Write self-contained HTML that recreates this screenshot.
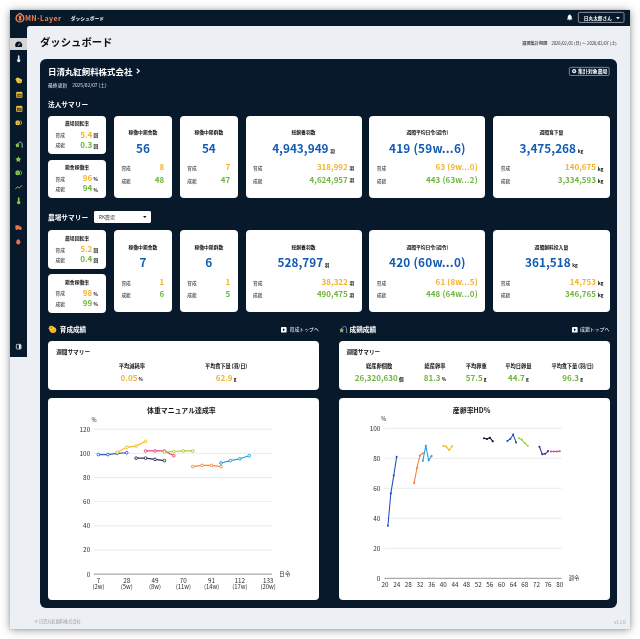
<!DOCTYPE html>
<html lang="ja"><head><meta charset="utf-8"><title>ダッシュボード</title>
<style>
html,body{margin:0;padding:0;}
body{width:640px;height:639px;position:relative;overflow:hidden;background:#fff;font-family:"Noto Sans CJK JP", "Liberation Sans", sans-serif;}
.t{position:absolute;white-space:nowrap;font-family:"Noto Sans CJK JP", "Liberation Sans", sans-serif;}
.b{position:absolute;}
svg{position:absolute;overflow:visible;}
.u{font-size:4.6px;color:#111;font-weight:700;}
</style></head><body><div id="app" style="position:absolute;left:0;top:0;width:640px;height:639px;will-change:transform">

<div class="b" style="left:10px;top:10px;width:620.2px;height:618.9px;background:#eceff4;box-shadow:0 1px 9px rgba(0,0,0,.38),0 0 3px rgba(0,0,0,.18);"></div>
<div class="b" style="left:10px;top:10px;width:620px;height:16px;background:#07192b;"></div>
<div class="b" style="left:10px;top:26px;width:17.2px;height:331px;background:#07192b;"></div>
<div class="b" style="left:27.2px;top:26px;width:5px;height:5px;background:#07192b;"></div>
<div class="b" style="left:27.2px;top:26px;width:10px;height:10px;background:#eceff4;border-top-left-radius:2.5px;"></div>
<div class="b" style="left:10px;top:37.5px;width:17.2px;height:12.5px;background:#d4d5d8;"></div>
<svg style="left:15.6px;top:13.3px" width="7.9" height="9.3" viewBox="1 0.500 14 19" preserveAspectRatio="none">
<path d="M8 1.200c-1.300 0-2.100 1-2.400 2.100C3 4.700 1.200 7.600 1.200 11c0 4.300 3 7.700 6.800 7.700s6.800-3.400 6.800-7.700c0-3.400-1.800-6.300-4.400-7.700C10.100 2.200 9.300 1.200 8 1.200z" fill="none" stroke="#ef7d52" stroke-width="2.700"/>
<path d="M8.300 5.500c1.500 0 2.300 1.300 2.300 2.800 0 1.200-.6 1.900-.6 2.800 0 1 1 1.400 1 2.600 0 1.400-1.300 2.400-2.800 2.400s-2.600-1-2.600-2.400c0-1.200.9-1.500.9-2.600 0-.9-.8-1.600-.8-2.800 0-1.500 1.100-2.800 2.600-2.800z" fill="#ef7d52"/>
</svg>
<div class="t" style="left:24.9px;top:12.94px;font-size:7.1px;line-height:10.6px;color:#ef7d52;font-weight:700;letter-spacing:0.38px;">MN-Layer</div>
<div class="t" style="left:70.8px;top:13.78px;font-size:4.76px;line-height:7.1px;color:#fff;font-weight:700;">ダッシュボード</div>
<svg style="left:566.8px;top:14.3px" width="5.4" height="7" viewBox="0 0 14 18">
<path d="M7 0.500c.8 0 1.300.6 1.300 1.300v.4c2.300.6 3.700 2.600 3.700 5v3.200l1.700 2.400v1.100H.3v-1.100L2 10.400V7.200c0-2.400 1.400-4.400 3.700-5v-.4C5.700 1.100 6.200.5 7 .5zM5.100 15h3.800c0 1.200-.8 2.100-1.900 2.100s-1.900-.9-1.900-2.100z" fill="#fff"/></svg>
<svg style="left:578.4px;top:12.1px" width="46.4" height="10.8" viewBox="0 0 46.400 10.800"><rect x="0.350" y="0.350" width="45.700" height="10.100" rx="1.500" fill="none" stroke="#b9c0ca" stroke-width="0.700"/></svg>
<div class="t" style="left:583.8px;top:14.97px;font-size:4.7px;line-height:7.1px;color:#fff;font-weight:700;">日丸太郎さん</div>
<svg style="left:615.6px;top:17.1px" width="3.8" height="2.2" viewBox="0 0 8 4.800"><path d="M0 0h8L4 4.800z" fill="#fff"/></svg>
<svg style="left:15px;top:40.7px" width="7.4" height="6.2" viewBox="0 0 16 14"><path d="M8 1C3.600 1 0 4.700 0 9.200c0 1.400.4 2.800 1 3.900.2.400.6.600 1 .600h12c.4 0 .8-.2 1-.6.600-1.100 1-2.500 1-3.900C16 4.700 12.400 1 8 1z" fill="#0b0f17"/><path d="M6.800 9.800l4.200-4" stroke="#fff" stroke-width="1.900" stroke-linecap="round"/></svg>
<svg style="left:16.8px;top:54.8px" width="3.4" height="7.2" viewBox="0 0 8 17"><path d="M4 0.400c-1.100 0-1.900.8-1.900 1.900v7.200C.9 10.300 0 11.600 0 13c0 2.200 1.800 4 4 4s4-1.800 4-4c0-1.400-.9-2.700-2.100-3.500V2.300C5.900 1.200 5.100.4 4 .4z" fill="#e3ebf7"/></svg>
<svg style="left:15.300px;top:76.700px" width="7.400" height="6.600" viewBox="0 0 8.600 7.800"><ellipse cx="5" cy="4.700" rx="3.300" ry="2.800" fill="#efc234"/><circle cx="3.300" cy="3" r="2.400" fill="#f2c93e"/><path d="M0.200 3l1.300-.8v1.500z" fill="#e9a52a"/><path d="M4.300 4.500c1.200-.2 2.400.3 2.800 1.300-.9.900-2.600.7-3.100-.4z" fill="#d9a520"/></svg>
<svg style="left:15.6px;top:91px" width="6.6" height="7" viewBox="0 0 16 16"><path d="M3.400 0.500h2v1.600h5.200V0.500h2v1.600h1.400c.9 0 1.600.7 1.600 1.600v10.600c0 .9-.7 1.600-1.600 1.600H2c-.9 0-1.600-.7-1.600-1.600V3.700c0-.9.700-1.600 1.600-1.600h1.400z" fill="#f0c53a"/><rect x="2.400" y="6.200" width="11.200" height="7.800" fill="#4f4a22"/><rect x="3.600" y="8.600" width="8.800" height="4" fill="#f0c53a" opacity=".5"/></svg>
<svg style="left:15.6px;top:105.1px" width="6.6" height="7" viewBox="0 0 16 16"><path d="M3.400 0.500h2v1.600h5.200V0.500h2v1.600h1.400c.9 0 1.600.7 1.600 1.600v10.600c0 .9-.7 1.600-1.600 1.600H2c-.9 0-1.600-.7-1.600-1.600V3.700c0-.9.700-1.600 1.600-1.600h1.400z" fill="#f0c53a"/><rect x="2.400" y="6.200" width="11.200" height="7.800" fill="#4f4a22"/><path d="M5.200 10.200l1.900 1.900 3.800-3.800" stroke="#f0c53a" stroke-width="1.700" fill="none"/></svg>
<svg style="left:14.8px;top:120.1px" width="8.2" height="5.6" viewBox="0 0 18 12"><ellipse cx="6" cy="6" rx="5.300" ry="5.500" fill="#f0c53a"/><path d="M11.500 1.200a5.300 5.300 0 0 1 0 9.600" stroke="#f0c53a" stroke-width="1.900" fill="none"/><ellipse cx="6" cy="6" rx="1.600" ry="2.600" fill="#07192b" opacity=".3"/></svg>
<svg style="left:14.8px;top:141.3px" width="8" height="7" viewBox="0 0 8 7"><path d="M3.300 2.600C3.700 0.700 6.400 0.300 7 2.600L7.200 6.300" fill="none" stroke="#b7d9a0" stroke-width="0.900" stroke-linecap="round"/><path d="M0.400 3.800l2.200-1.700 0.300 1.100 1.700 0.200-0.900 1.300 0.500 1.500-1.900-0.500-1.300 0.700 0.200-1.700z" fill="#8ccb4c"/></svg>
<svg style="left:15.4px;top:155.8px" width="6.6" height="6.4" viewBox="0 0 16 16"><path d="M8 0.500l2.300 4.900 5.200.7-3.800 3.700.9 5.300L8 12.600l-4.600 2.500.9-5.300L.5 6.100l5.200-.7z" fill="#8ccb4c"/></svg>
<svg style="left:14.8px;top:170.3px" width="8.2" height="5.6" viewBox="0 0 18 12"><ellipse cx="6" cy="6" rx="5.300" ry="5.500" fill="#8ccb4c"/><path d="M11.500 1.200a5.300 5.300 0 0 1 0 9.600" stroke="#8ccb4c" stroke-width="1.900" fill="none"/><ellipse cx="6" cy="6" rx="1.600" ry="2.600" fill="#07192b" opacity=".3"/></svg>
<svg style="left:15.1px;top:185px" width="7.2" height="4.4" viewBox="0 0 16 10"><path d="M1 9l4.500-5 3.500 3L15 1.500" stroke="#8ccb4c" stroke-width="2" fill="none" stroke-linecap="round" stroke-linejoin="round"/></svg>
<svg style="left:16.8px;top:197.4px" width="3.4" height="7.2" viewBox="0 0 8 17"><path d="M4 0.400c-1.100 0-1.900.8-1.900 1.900v7.200C.9 10.300 0 11.600 0 13c0 2.200 1.800 4 4 4s4-1.800 4-4c0-1.400-.9-2.700-2.100-3.500V2.300C5.900 1.200 5.100.4 4 .4z" fill="#8ccb4c"/></svg>
<svg style="left:14.9px;top:224.7px" width="7" height="5" viewBox="0 0 16 12"><path d="M0.500 0.500h9v2.500h3l3 3.200v3.800h-1.300a2 2 0 0 1-4 0H6.300a2 2 0 0 1-4 0H0.500z" fill="#ee6f4c"/></svg>
<svg style="left:16.2px;top:238.7px" width="4.6" height="5.6" viewBox="0 0 10 12"><path d="M5 0.300C2.600 0.300 0.300 4 0.300 7.200c0 2.800 2 4.500 4.700 4.500s4.700-1.700 4.700-4.500C9.700 4 7.400.3 5 .3z" fill="#ee6f4c"/></svg>
<svg style="left:16px;top:344px" width="5.4" height="5.4" viewBox="0 0 16 16"><rect x="1" y="1" width="14" height="14" rx="2" fill="none" stroke="#fff" stroke-width="2"/><rect x="8.500" y="2" width="5.500" height="12" fill="#fff"/></svg>
<div class="t" style="left:40px;top:33.98px;font-size:10.35px;line-height:15.5px;color:#0c0f14;font-weight:700;">ダッシュボード</div>
<div class="t" style="right:23.3px;top:39.88px;font-size:4.18px;line-height:6.3px;color:#222;"><b style="font-weight:500">週間集計期間</b>　2026/02/01 (日) 〜 2026/02/07 (土)</div>
<div class="b" style="left:40px;top:58.6px;width:576.9px;height:549px;background:#07192b;border-radius:6px;"></div>
<div class="t" style="left:48px;top:65.21px;font-size:8.45px;line-height:12.7px;color:#fff;font-weight:700;">日清丸紅飼料株式会社</div>
<svg style="left:136.3px;top:68.4px" width="4.200" height="6" viewBox="0 0 7 10"><path d="M1.300 1.200l4.200 3.800-4.200 3.800" stroke="#fff" stroke-width="1.900" fill="none"/></svg>
<div class="t" style="left:48px;top:81.09px;font-size:4.85px;line-height:7.3px;color:#dde1e7;">最終更新　2025/02/07 (土)</div>
<svg style="left:568.9px;top:66.7px" width="40.5" height="8.8" viewBox="0 0 40.500 8.800"><rect x="0.350" y="0.350" width="39.800" height="8.100" rx="1.200" fill="none" stroke="#aeb5bf" stroke-width="0.700"/></svg>
<svg style="left:572px;top:68.95px" width="4.300" height="4.300" viewBox="0 0 10 10"><circle cx="5" cy="5" r="4.800" fill="#fff"/><path d="M5 2.500v5M2.500 5h5" stroke="#07192b" stroke-width="1.500"/></svg>
<div class="t" style="left:578.1px;top:67.04px;font-size:4.9px;line-height:7.4px;color:#fff;font-weight:700;">集計対象農場</div>
<div class="t" style="left:48px;top:99.25px;font-size:6.7px;line-height:10.1px;color:#fff;font-weight:700;">法人サマリー</div>
<div class="b" style="left:48.1px;top:115.9px;width:58px;height:38.5px;background:#fff;border-radius:4px;"></div>
<div class="t" style="left:77.1px;transform:translateX(-50%);top:119.29px;font-size:4.85px;line-height:7.3px;color:#111;font-weight:700;">農場回転率</div>
<div class="t" style="left:55.6px;top:131.77px;font-size:4.7px;line-height:7.1px;color:#4a4a4a;font-weight:500;">育成</div>
<div class="t" style="right:547.7px;top:129.18px;font-size:8.1px;line-height:12.1px;color:#f4b42c;font-weight:700;">5.4</div>
<div class="t" style="left:93.6px;top:132.06px;font-size:4.6px;line-height:6.9px;color:#111;font-weight:700;">回</div>
<div class="t" style="left:55.6px;top:142.17px;font-size:4.7px;line-height:7.1px;color:#4a4a4a;font-weight:500;">成鶏</div>
<div class="t" style="right:547.7px;top:139.38px;font-size:8.1px;line-height:12.1px;color:#72b53f;font-weight:700;">0.3</div>
<div class="t" style="left:93.6px;top:142.96px;font-size:4.6px;line-height:6.9px;color:#111;font-weight:700;">回</div>
<div class="b" style="left:48.1px;top:159.5px;width:58px;height:38.5px;background:#fff;border-radius:4px;"></div>
<div class="t" style="left:77.1px;transform:translateX(-50%);top:163.49px;font-size:4.85px;line-height:7.3px;color:#111;font-weight:700;">鶏舎稼働率</div>
<div class="t" style="left:55.6px;top:176.17px;font-size:4.7px;line-height:7.1px;color:#4a4a4a;font-weight:500;">育成</div>
<div class="t" style="right:547.7px;top:171.88px;font-size:8.1px;line-height:12.1px;color:#f4b42c;font-weight:700;">96</div>
<div class="t" style="left:93.6px;top:176.36px;font-size:4.6px;line-height:6.9px;color:#111;font-weight:700;">%</div>
<div class="t" style="left:55.6px;top:186.37px;font-size:4.7px;line-height:7.1px;color:#4a4a4a;font-weight:500;">成鶏</div>
<div class="t" style="right:547.7px;top:182.28px;font-size:8.1px;line-height:12.1px;color:#72b53f;font-weight:700;">94</div>
<div class="t" style="left:93.6px;top:186.56px;font-size:4.6px;line-height:6.9px;color:#111;font-weight:700;">%</div>
<div class="b" style="left:113.9px;top:115.9px;width:58px;height:82px;background:#fff;border-radius:4px;"></div>
<div class="t" style="left:142.9px;transform:translateX(-50%);top:127.63px;font-size:4.8px;line-height:7.2px;color:#111;font-weight:700;">稼働中鶏舎数</div>
<div class="t" style="left:142.9px;transform:translateX(-50%);top:138.91px;font-size:11.8px;line-height:17.7px;color:#125bb4;font-weight:700;">56</div>
<div class="t" style="left:121.4px;top:165.47px;font-size:4.7px;line-height:7.1px;color:#4a4a4a;font-weight:500;">育成</div>
<div class="t" style="right:475.8px;top:160.92px;font-size:8.0px;line-height:12.0px;color:#f4b42c;font-weight:700;">8</div>
<div class="t" style="left:121.4px;top:177.87px;font-size:4.7px;line-height:7.1px;color:#4a4a4a;font-weight:500;">成鶏</div>
<div class="t" style="right:475.8px;top:174.22px;font-size:8.0px;line-height:12.0px;color:#72b53f;font-weight:700;">48</div>
<div class="b" style="left:179.7px;top:115.9px;width:58.3px;height:82px;background:#fff;border-radius:4px;"></div>
<div class="t" style="left:208.85px;transform:translateX(-50%);top:127.63px;font-size:4.8px;line-height:7.2px;color:#111;font-weight:700;">稼働中鶏群数</div>
<div class="t" style="left:208.85px;transform:translateX(-50%);top:138.91px;font-size:11.8px;line-height:17.7px;color:#125bb4;font-weight:700;">54</div>
<div class="t" style="left:187.2px;top:165.47px;font-size:4.7px;line-height:7.1px;color:#4a4a4a;font-weight:500;">育成</div>
<div class="t" style="right:409.7px;top:160.92px;font-size:8.0px;line-height:12.0px;color:#f4b42c;font-weight:700;">7</div>
<div class="t" style="left:187.2px;top:177.87px;font-size:4.7px;line-height:7.1px;color:#4a4a4a;font-weight:500;">成鶏</div>
<div class="t" style="right:409.7px;top:174.22px;font-size:8.0px;line-height:12.0px;color:#72b53f;font-weight:700;">47</div>
<div class="b" style="left:245.5px;top:115.9px;width:116px;height:82px;background:#fff;border-radius:4px;"></div>
<div class="t" style="left:303.5px;transform:translateX(-50%);top:127.63px;font-size:4.8px;line-height:7.2px;color:#111;font-weight:700;">総飼養羽数</div>
<div class="t" style="left:303.5px;transform:translateX(-50%);top:138.91px;font-size:11.8px;line-height:17.7px;color:#125bb4;font-weight:700;">4,943,949<span class="u" style="margin-left:1.7px">羽</span></div>
<div class="t" style="left:253px;top:165.47px;font-size:4.7px;line-height:7.1px;color:#4a4a4a;font-weight:500;">育成</div>
<div class="t" style="right:292.2px;top:160.92px;font-size:8.0px;line-height:12.0px;color:#f4b42c;font-weight:700;">318,992</div>
<div class="t" style="left:349.6px;top:165.46px;font-size:4.6px;line-height:6.9px;color:#111;font-weight:700;">羽</div>
<div class="t" style="left:253px;top:177.87px;font-size:4.7px;line-height:7.1px;color:#4a4a4a;font-weight:500;">成鶏</div>
<div class="t" style="right:292.2px;top:174.22px;font-size:8.0px;line-height:12.0px;color:#72b53f;font-weight:700;">4,624,957</div>
<div class="t" style="left:349.6px;top:177.26px;font-size:4.6px;line-height:6.9px;color:#111;font-weight:700;">羽</div>
<div class="b" style="left:369.3px;top:115.9px;width:116.2px;height:82px;background:#fff;border-radius:4px;"></div>
<div class="t" style="left:427.4px;transform:translateX(-50%);top:127.63px;font-size:4.8px;line-height:7.2px;color:#111;font-weight:700;">週間平均日令(週令)</div>
<div class="t" style="left:427.4px;transform:translateX(-50%);top:138.91px;font-size:11.8px;line-height:17.7px;color:#125bb4;font-weight:700;letter-spacing:0.2px;">419 (59w...6)</div>
<div class="t" style="left:376.8px;top:165.47px;font-size:4.7px;line-height:7.1px;color:#4a4a4a;font-weight:500;">育成</div>
<div class="t" style="right:162.2px;top:160.92px;font-size:8.0px;line-height:12.0px;color:#f4b42c;font-weight:700;letter-spacing:0.13px;">63 (9w...0)</div>
<div class="t" style="left:376.8px;top:177.87px;font-size:4.7px;line-height:7.1px;color:#4a4a4a;font-weight:500;">成鶏</div>
<div class="t" style="right:162.2px;top:174.22px;font-size:8.0px;line-height:12.0px;color:#72b53f;font-weight:700;letter-spacing:0.13px;">443 (63w...2)</div>
<div class="b" style="left:493.2px;top:115.9px;width:116.4px;height:82px;background:#fff;border-radius:4px;"></div>
<div class="t" style="left:551.4px;transform:translateX(-50%);top:127.63px;font-size:4.8px;line-height:7.2px;color:#111;font-weight:700;">週間食下量</div>
<div class="t" style="left:551.4px;transform:translateX(-50%);top:138.91px;font-size:11.8px;line-height:17.7px;color:#125bb4;font-weight:700;">3,475,268<span class="u" style="margin-left:1.7px">kg</span></div>
<div class="t" style="left:500.7px;top:165.47px;font-size:4.7px;line-height:7.1px;color:#4a4a4a;font-weight:500;">育成</div>
<div class="t" style="right:44.1px;top:160.92px;font-size:8.0px;line-height:12.0px;color:#f4b42c;font-weight:700;">140,675</div>
<div class="t" style="left:597.7px;top:165.24px;font-size:4.9px;line-height:7.4px;color:#111;font-weight:700;">kg</div>
<div class="t" style="left:500.7px;top:177.87px;font-size:4.7px;line-height:7.1px;color:#4a4a4a;font-weight:500;">成鶏</div>
<div class="t" style="right:44.1px;top:174.22px;font-size:8.0px;line-height:12.0px;color:#72b53f;font-weight:700;">3,334,593</div>
<div class="t" style="left:597.7px;top:176.54px;font-size:4.9px;line-height:7.4px;color:#111;font-weight:700;">kg</div>
<div class="t" style="left:48px;top:211.85px;font-size:6.7px;line-height:10.1px;color:#fff;font-weight:700;">農場サマリー</div>
<div class="b" style="left:93.8px;top:211.3px;width:57.4px;height:11.4px;background:#fff;border-radius:1.4px;"></div>
<div class="t" style="left:98.8px;top:212.64px;font-size:4.9px;line-height:7.4px;color:#3a3a3a;">RK農場</div>
<svg style="left:142.6px;top:216.1px" width="3.6" height="2" viewBox="0 0 8 4.500"><path d="M0 0h8L4 4.500z" fill="#111"/></svg>
<div class="b" style="left:48.1px;top:230.4px;width:58px;height:38.5px;background:#fff;border-radius:4px;"></div>
<div class="t" style="left:77.1px;transform:translateX(-50%);top:234.29px;font-size:4.85px;line-height:7.3px;color:#111;font-weight:700;">農場回転率</div>
<div class="t" style="left:55.6px;top:247.07px;font-size:4.7px;line-height:7.1px;color:#4a4a4a;font-weight:500;">育成</div>
<div class="t" style="right:547.7px;top:242.68px;font-size:8.1px;line-height:12.1px;color:#f4b42c;font-weight:700;">5.2</div>
<div class="t" style="left:93.6px;top:247.26px;font-size:4.6px;line-height:6.9px;color:#111;font-weight:700;">回</div>
<div class="t" style="left:55.6px;top:257.27px;font-size:4.7px;line-height:7.1px;color:#4a4a4a;font-weight:500;">成鶏</div>
<div class="t" style="right:547.7px;top:253.08px;font-size:8.1px;line-height:12.1px;color:#72b53f;font-weight:700;">0.4</div>
<div class="t" style="left:93.6px;top:257.46px;font-size:4.6px;line-height:6.9px;color:#111;font-weight:700;">回</div>
<div class="b" style="left:48.1px;top:274px;width:58px;height:38.5px;background:#fff;border-radius:4px;"></div>
<div class="t" style="left:77.1px;transform:translateX(-50%);top:278.09px;font-size:4.85px;line-height:7.3px;color:#111;font-weight:700;">鶏舎稼働率</div>
<div class="t" style="left:55.6px;top:289.97px;font-size:4.7px;line-height:7.1px;color:#4a4a4a;font-weight:500;">育成</div>
<div class="t" style="right:547.7px;top:287.28px;font-size:8.1px;line-height:12.1px;color:#f4b42c;font-weight:700;">98</div>
<div class="t" style="left:93.6px;top:290.86px;font-size:4.6px;line-height:6.9px;color:#111;font-weight:700;">%</div>
<div class="t" style="left:55.6px;top:300.87px;font-size:4.7px;line-height:7.1px;color:#4a4a4a;font-weight:500;">成鶏</div>
<div class="t" style="right:547.7px;top:297.48px;font-size:8.1px;line-height:12.1px;color:#72b53f;font-weight:700;">99</div>
<div class="t" style="left:93.6px;top:301.06px;font-size:4.6px;line-height:6.9px;color:#111;font-weight:700;">%</div>
<div class="b" style="left:113.9px;top:230.4px;width:58px;height:82px;background:#fff;border-radius:4px;"></div>
<div class="t" style="left:142.9px;transform:translateX(-50%);top:242.53px;font-size:4.8px;line-height:7.2px;color:#111;font-weight:700;">稼働中鶏舎数</div>
<div class="t" style="left:142.9px;transform:translateX(-50%);top:252.91px;font-size:11.8px;line-height:17.7px;color:#125bb4;font-weight:700;">7</div>
<div class="t" style="left:121.4px;top:279.97px;font-size:4.7px;line-height:7.1px;color:#4a4a4a;font-weight:500;">育成</div>
<div class="t" style="right:475.8px;top:276.32px;font-size:8.0px;line-height:12.0px;color:#f4b42c;font-weight:700;">1</div>
<div class="t" style="left:121.4px;top:292.37px;font-size:4.7px;line-height:7.1px;color:#4a4a4a;font-weight:500;">成鶏</div>
<div class="t" style="right:475.8px;top:287.72px;font-size:8.0px;line-height:12.0px;color:#72b53f;font-weight:700;">6</div>
<div class="b" style="left:179.7px;top:230.4px;width:58.3px;height:82px;background:#fff;border-radius:4px;"></div>
<div class="t" style="left:208.85px;transform:translateX(-50%);top:242.53px;font-size:4.8px;line-height:7.2px;color:#111;font-weight:700;">稼働中鶏群数</div>
<div class="t" style="left:208.85px;transform:translateX(-50%);top:252.91px;font-size:11.8px;line-height:17.7px;color:#125bb4;font-weight:700;">6</div>
<div class="t" style="left:187.2px;top:279.97px;font-size:4.7px;line-height:7.1px;color:#4a4a4a;font-weight:500;">育成</div>
<div class="t" style="right:409.7px;top:276.32px;font-size:8.0px;line-height:12.0px;color:#f4b42c;font-weight:700;">1</div>
<div class="t" style="left:187.2px;top:292.37px;font-size:4.7px;line-height:7.1px;color:#4a4a4a;font-weight:500;">成鶏</div>
<div class="t" style="right:409.7px;top:287.72px;font-size:8.0px;line-height:12.0px;color:#72b53f;font-weight:700;">5</div>
<div class="b" style="left:245.5px;top:230.4px;width:116px;height:82px;background:#fff;border-radius:4px;"></div>
<div class="t" style="left:303.5px;transform:translateX(-50%);top:242.53px;font-size:4.8px;line-height:7.2px;color:#111;font-weight:700;">総飼養羽数</div>
<div class="t" style="left:303.5px;transform:translateX(-50%);top:252.91px;font-size:11.8px;line-height:17.7px;color:#125bb4;font-weight:700;">528,797<span class="u" style="margin-left:1.7px">羽</span></div>
<div class="t" style="left:253px;top:279.97px;font-size:4.7px;line-height:7.1px;color:#4a4a4a;font-weight:500;">育成</div>
<div class="t" style="right:292.2px;top:276.32px;font-size:8.0px;line-height:12.0px;color:#f4b42c;font-weight:700;">38,322</div>
<div class="t" style="left:349.6px;top:279.96px;font-size:4.6px;line-height:6.9px;color:#111;font-weight:700;">羽</div>
<div class="t" style="left:253px;top:292.37px;font-size:4.7px;line-height:7.1px;color:#4a4a4a;font-weight:500;">成鶏</div>
<div class="t" style="right:292.2px;top:287.72px;font-size:8.0px;line-height:12.0px;color:#72b53f;font-weight:700;">490,475</div>
<div class="t" style="left:349.6px;top:292.36px;font-size:4.6px;line-height:6.9px;color:#111;font-weight:700;">羽</div>
<div class="b" style="left:369.3px;top:230.4px;width:116.2px;height:82px;background:#fff;border-radius:4px;"></div>
<div class="t" style="left:427.4px;transform:translateX(-50%);top:242.53px;font-size:4.8px;line-height:7.2px;color:#111;font-weight:700;">週間平均日令(週令)</div>
<div class="t" style="left:427.4px;transform:translateX(-50%);top:252.91px;font-size:11.8px;line-height:17.7px;color:#125bb4;font-weight:700;letter-spacing:0.2px;">420 (60w...0)</div>
<div class="t" style="left:376.8px;top:279.97px;font-size:4.7px;line-height:7.1px;color:#4a4a4a;font-weight:500;">育成</div>
<div class="t" style="right:162.2px;top:276.32px;font-size:8.0px;line-height:12.0px;color:#f4b42c;font-weight:700;letter-spacing:0.13px;">61 (8w...5)</div>
<div class="t" style="left:376.8px;top:292.37px;font-size:4.7px;line-height:7.1px;color:#4a4a4a;font-weight:500;">成鶏</div>
<div class="t" style="right:162.2px;top:287.72px;font-size:8.0px;line-height:12.0px;color:#72b53f;font-weight:700;letter-spacing:0.13px;">448 (64w...0)</div>
<div class="b" style="left:493.2px;top:230.4px;width:116.4px;height:82px;background:#fff;border-radius:4px;"></div>
<div class="t" style="left:551.4px;transform:translateX(-50%);top:242.53px;font-size:4.8px;line-height:7.2px;color:#111;font-weight:700;">週間飼料投入量</div>
<div class="t" style="left:551.4px;transform:translateX(-50%);top:252.91px;font-size:11.8px;line-height:17.7px;color:#125bb4;font-weight:700;">361,518<span class="u" style="margin-left:1.7px">kg</span></div>
<div class="t" style="left:500.7px;top:279.97px;font-size:4.7px;line-height:7.1px;color:#4a4a4a;font-weight:500;">育成</div>
<div class="t" style="right:44.1px;top:276.32px;font-size:8.0px;line-height:12.0px;color:#f4b42c;font-weight:700;">14,753</div>
<div class="t" style="left:597.7px;top:278.74px;font-size:4.9px;line-height:7.4px;color:#111;font-weight:700;">kg</div>
<div class="t" style="left:500.7px;top:292.37px;font-size:4.7px;line-height:7.1px;color:#4a4a4a;font-weight:500;">成鶏</div>
<div class="t" style="right:44.1px;top:287.72px;font-size:8.0px;line-height:12.0px;color:#72b53f;font-weight:700;">346,765</div>
<div class="t" style="left:597.7px;top:290.94px;font-size:4.9px;line-height:7.4px;color:#111;font-weight:700;">kg</div>
<svg style="left:47.8px;top:324.6px" width="8.600" height="8.400" viewBox="0 0 8.600 8.400"><ellipse cx="5" cy="5" rx="3.300" ry="3" fill="#f7bb2c"/><circle cx="3.400" cy="3.300" r="2.500" fill="#f9c83a"/><path d="M0.200 3.300l1.300-.8v1.500z" fill="#f29a2a"/><circle cx="3.200" cy="2.900" r=".55" fill="#3a2a10"/><path d="M4.300 4.800c1.200-.2 2.400.3 2.800 1.400-.9.900-2.600.7-3.100-.5z" fill="#f0a524"/></svg>
<div class="t" style="left:59.8px;top:324.89px;font-size:6.6px;line-height:9.9px;color:#fff;font-weight:700;">育成成績</div>
<svg style="left:281.2px;top:326.7px" width="5.600" height="5.600" viewBox="0 0 10 10"><rect x="0" y="0" width="10" height="10" rx="1.600" fill="#fff"/><path d="M3.500 2.300L7.200 5 3.500 7.700z" fill="#07192b"/></svg>
<div class="t" style="left:289.5px;top:324.74px;font-size:4.9px;line-height:7.4px;color:#fff;">育成トップへ</div>
<svg style="left:338.6px;top:324.9px" width="8.400" height="8.400" viewBox="0 0 8.400 8.400"><path d="M3.300 3.300C3.800 0.900 6.800 0.500 7.500 3.300L7.700 7.800" fill="none" stroke="#8ea2b8" stroke-width="0.850" stroke-linecap="round"/><path d="M0.500 4.700l2.300-1.600 0.400 1.200 1.700 0.300-1 1.300 0.500 1.600-1.900-0.600-1.400 0.700 0.300-1.800z" fill="#9fd06c" opacity="0.850"/></svg>
<div class="t" style="left:349.5px;top:323.6px;font-size:6.68px;line-height:10.0px;color:#fff;font-weight:700;">成鶏成績</div>
<svg style="left:571.8px;top:326.5px" width="5.600" height="5.600" viewBox="0 0 10 10"><rect x="0" y="0" width="10" height="10" rx="1.600" fill="#fff"/><path d="M3.500 2.300L7.200 5 3.500 7.700z" fill="#07192b"/></svg>
<div class="t" style="left:580px;top:324.74px;font-size:4.9px;line-height:7.4px;color:#fff;">成鶏トップへ</div>
<div class="b" style="left:48px;top:341.2px;width:270.6px;height:48.8px;background:#fff;border-radius:4px;"></div>
<div class="t" style="left:56.2px;top:348.01px;font-size:5.65px;line-height:8.5px;color:#111;font-weight:700;">週間サマリー</div>
<div class="t" style="left:131.8px;transform:translateX(-50%);top:362.72px;font-size:5.25px;line-height:7.9px;color:#111;font-weight:700;">平均減耗率</div>
<div class="t" style="left:131.8px;transform:translateX(-50%);top:371.72px;font-size:8.0px;line-height:12.0px;color:#f4b42c;font-weight:700;">0.05<span class="u" style="margin-left:1.200px">%</span></div>
<div class="t" style="left:226.1px;transform:translateX(-50%);top:362.72px;font-size:5.25px;line-height:7.9px;color:#111;font-weight:700;letter-spacing:-0.18px;">平均食下量 (羽/日)</div>
<div class="t" style="left:226.1px;transform:translateX(-50%);top:371.72px;font-size:8.0px;line-height:12.0px;color:#f4b42c;font-weight:700;">62.9<span class="u" style="margin-left:1.200px">g</span></div>
<div class="b" style="left:338.9px;top:341.2px;width:271.1px;height:48.8px;background:#fff;border-radius:4px;"></div>
<div class="t" style="left:346.4px;top:348.01px;font-size:5.65px;line-height:8.5px;color:#111;font-weight:700;">週間サマリー</div>
<div class="t" style="left:379.2px;transform:translateX(-50%);top:362.72px;font-size:5.25px;line-height:7.9px;color:#111;font-weight:700;">総産卵個数</div>
<div class="t" style="left:379.2px;transform:translateX(-50%);top:371.72px;font-size:8.0px;line-height:12.0px;color:#72b53f;font-weight:700;">26,320,630<span class="u" style="margin-left:1.200px">個</span></div>
<div class="t" style="left:434.9px;transform:translateX(-50%);top:362.72px;font-size:5.25px;line-height:7.9px;color:#111;font-weight:700;">総産卵率</div>
<div class="t" style="left:434.9px;transform:translateX(-50%);top:371.72px;font-size:8.0px;line-height:12.0px;color:#72b53f;font-weight:700;">81.3<span class="u" style="margin-left:1.200px">%</span></div>
<div class="t" style="left:476.2px;transform:translateX(-50%);top:362.72px;font-size:5.25px;line-height:7.9px;color:#111;font-weight:700;">平均卵重</div>
<div class="t" style="left:476.2px;transform:translateX(-50%);top:371.72px;font-size:8.0px;line-height:12.0px;color:#72b53f;font-weight:700;">57.5<span class="u" style="margin-left:1.200px">g</span></div>
<div class="t" style="left:518.3px;transform:translateX(-50%);top:362.72px;font-size:5.25px;line-height:7.9px;color:#111;font-weight:700;">平均日卵量</div>
<div class="t" style="left:518.3px;transform:translateX(-50%);top:371.72px;font-size:8.0px;line-height:12.0px;color:#72b53f;font-weight:700;">44.7<span class="u" style="margin-left:1.200px">g</span></div>
<div class="t" style="left:572.6px;transform:translateX(-50%);top:362.72px;font-size:5.25px;line-height:7.9px;color:#111;font-weight:700;letter-spacing:-0.18px;">平均食下量 (羽/日)</div>
<div class="t" style="left:572.6px;transform:translateX(-50%);top:371.72px;font-size:8.0px;line-height:12.0px;color:#72b53f;font-weight:700;">96.3<span class="u" style="margin-left:1.200px">g</span></div>
<div class="b" style="left:47.9px;top:397.9px;width:270.7px;height:202.2px;background:#fff;border-radius:4px;"></div>
<div class="t" style="left:181.4px;transform:translateX(-50%);top:404.92px;font-size:6.9px;line-height:10.4px;color:#111;font-weight:700;">体重マニュアル達成率</div>
<svg style="left:0;top:0" width="640" height="639" viewBox="0 0 640 639"><line x1="93.800" x2="272" y1="574.10" y2="574.10" stroke="#7a7a7a" stroke-width="0.8"/><line x1="93.800" x2="272" y1="549.95" y2="549.95" stroke="#dedede" stroke-width="0.6"/><line x1="93.800" x2="272" y1="525.80" y2="525.80" stroke="#dedede" stroke-width="0.6"/><line x1="93.800" x2="272" y1="501.65" y2="501.65" stroke="#dedede" stroke-width="0.6"/><line x1="93.800" x2="272" y1="477.50" y2="477.50" stroke="#dedede" stroke-width="0.6"/><line x1="93.800" x2="272" y1="453.35" y2="453.35" stroke="#dedede" stroke-width="0.6"/><line x1="93.800" x2="272" y1="429.20" y2="429.20" stroke="#dedede" stroke-width="0.6"/><polyline points="98.40,454.56 107.83,454.56 117.26,453.35 126.69,452.75" fill="none" stroke="#2c5fc6" stroke-width="1.150"/><circle cx="98.40" cy="454.56" r="1.350" fill="#fff" stroke="#2c5fc6" stroke-width="0.950"/><circle cx="107.83" cy="454.56" r="1.350" fill="#fff" stroke="#2c5fc6" stroke-width="0.950"/><circle cx="117.26" cy="453.35" r="1.350" fill="#fff" stroke="#2c5fc6" stroke-width="0.950"/><circle cx="126.69" cy="452.75" r="1.350" fill="#fff" stroke="#2c5fc6" stroke-width="0.950"/><polyline points="117.26,452.14 126.69,447.31 136.12,446.11 145.55,441.28" fill="none" stroke="#f5b921" stroke-width="1.150"/><circle cx="117.26" cy="452.14" r="1.350" fill="#fff" stroke="#f5b921" stroke-width="0.950"/><circle cx="126.69" cy="447.31" r="1.350" fill="#fff" stroke="#f5b921" stroke-width="0.950"/><circle cx="136.12" cy="446.11" r="1.350" fill="#fff" stroke="#f5b921" stroke-width="0.950"/><circle cx="145.55" cy="441.28" r="1.350" fill="#fff" stroke="#f5b921" stroke-width="0.950"/><polyline points="136.12,458.18 145.55,458.18 154.98,459.39 164.41,460.60" fill="none" stroke="#2a2f5e" stroke-width="1.150"/><circle cx="136.12" cy="458.18" r="1.350" fill="#fff" stroke="#2a2f5e" stroke-width="0.950"/><circle cx="145.55" cy="458.18" r="1.350" fill="#fff" stroke="#2a2f5e" stroke-width="0.950"/><circle cx="154.98" cy="459.39" r="1.350" fill="#fff" stroke="#2a2f5e" stroke-width="0.950"/><circle cx="164.41" cy="460.60" r="1.350" fill="#fff" stroke="#2a2f5e" stroke-width="0.950"/><polyline points="145.55,450.94 154.98,450.94 164.41,450.94 173.84,455.76" fill="none" stroke="#e8417f" stroke-width="1.150"/><circle cx="145.55" cy="450.94" r="1.350" fill="#fff" stroke="#e8417f" stroke-width="0.950"/><circle cx="154.98" cy="450.94" r="1.350" fill="#fff" stroke="#e8417f" stroke-width="0.950"/><circle cx="164.41" cy="450.94" r="1.350" fill="#fff" stroke="#e8417f" stroke-width="0.950"/><circle cx="173.84" cy="455.76" r="1.350" fill="#fff" stroke="#e8417f" stroke-width="0.950"/><polyline points="164.41,452.14 173.84,451.54 183.27,450.94 192.70,450.94" fill="none" stroke="#a5cd39" stroke-width="1.150"/><circle cx="164.41" cy="452.14" r="1.350" fill="#fff" stroke="#a5cd39" stroke-width="0.950"/><circle cx="173.84" cy="451.54" r="1.350" fill="#fff" stroke="#a5cd39" stroke-width="0.950"/><circle cx="183.27" cy="450.94" r="1.350" fill="#fff" stroke="#a5cd39" stroke-width="0.950"/><circle cx="192.70" cy="450.94" r="1.350" fill="#fff" stroke="#a5cd39" stroke-width="0.950"/><polyline points="192.70,466.63 202.13,465.43 211.56,465.43 220.99,466.63" fill="none" stroke="#f5883a" stroke-width="1.150"/><circle cx="192.70" cy="466.63" r="1.350" fill="#fff" stroke="#f5883a" stroke-width="0.950"/><circle cx="202.13" cy="465.43" r="1.350" fill="#fff" stroke="#f5883a" stroke-width="0.950"/><circle cx="211.56" cy="465.43" r="1.350" fill="#fff" stroke="#f5883a" stroke-width="0.950"/><circle cx="220.99" cy="466.63" r="1.350" fill="#fff" stroke="#f5883a" stroke-width="0.950"/><polyline points="220.99,463.01 230.42,460.60 239.85,458.78 249.28,455.76" fill="none" stroke="#1e9fd9" stroke-width="1.150"/><circle cx="220.99" cy="463.01" r="1.350" fill="#fff" stroke="#1e9fd9" stroke-width="0.950"/><circle cx="230.42" cy="460.60" r="1.350" fill="#fff" stroke="#1e9fd9" stroke-width="0.950"/><circle cx="239.85" cy="458.78" r="1.350" fill="#fff" stroke="#1e9fd9" stroke-width="0.950"/><circle cx="249.28" cy="455.76" r="1.350" fill="#fff" stroke="#1e9fd9" stroke-width="0.950"/></svg>
<div class="t" style="right:549.8px;top:569.88px;font-size:6.4px;line-height:9.6px;color:#2e2e2e;">0</div>
<div class="t" style="right:549.8px;top:545.18px;font-size:6.4px;line-height:9.6px;color:#2e2e2e;">20</div>
<div class="t" style="right:549.8px;top:520.88px;font-size:6.4px;line-height:9.6px;color:#2e2e2e;">40</div>
<div class="t" style="right:549.8px;top:497.43px;font-size:6.4px;line-height:9.6px;color:#2e2e2e;">60</div>
<div class="t" style="right:549.8px;top:473.28px;font-size:6.4px;line-height:9.6px;color:#2e2e2e;">80</div>
<div class="t" style="right:549.8px;top:449.13px;font-size:6.4px;line-height:9.6px;color:#2e2e2e;">100</div>
<div class="t" style="right:549.8px;top:424.98px;font-size:6.4px;line-height:9.6px;color:#2e2e2e;">120</div>
<div class="t" style="left:94px;transform:translateX(-50%);top:415.89px;font-size:5.5px;line-height:8.2px;color:#2e2e2e;">%</div>
<div class="t" style="left:98.4px;transform:translateX(-50%);top:576.17px;font-size:6.3px;line-height:9.4px;color:#2e2e2e;">7</div>
<div class="t" style="left:98.4px;transform:translateX(-50%);top:582.78px;font-size:5.9px;line-height:8.9px;color:#2e2e2e;">(2w)</div>
<div class="t" style="left:126.69px;transform:translateX(-50%);top:576.17px;font-size:6.3px;line-height:9.4px;color:#2e2e2e;">28</div>
<div class="t" style="left:126.69px;transform:translateX(-50%);top:582.78px;font-size:5.9px;line-height:8.9px;color:#2e2e2e;">(5w)</div>
<div class="t" style="left:154.98px;transform:translateX(-50%);top:576.17px;font-size:6.3px;line-height:9.4px;color:#2e2e2e;">49</div>
<div class="t" style="left:154.98px;transform:translateX(-50%);top:582.78px;font-size:5.9px;line-height:8.9px;color:#2e2e2e;">(8w)</div>
<div class="t" style="left:183.27px;transform:translateX(-50%);top:576.17px;font-size:6.3px;line-height:9.4px;color:#2e2e2e;">70</div>
<div class="t" style="left:183.27px;transform:translateX(-50%);top:582.78px;font-size:5.9px;line-height:8.9px;color:#2e2e2e;">(11w)</div>
<div class="t" style="left:211.56px;transform:translateX(-50%);top:576.17px;font-size:6.3px;line-height:9.4px;color:#2e2e2e;">91</div>
<div class="t" style="left:211.56px;transform:translateX(-50%);top:582.78px;font-size:5.9px;line-height:8.9px;color:#2e2e2e;">(14w)</div>
<div class="t" style="left:239.85px;transform:translateX(-50%);top:576.17px;font-size:6.3px;line-height:9.4px;color:#2e2e2e;">112</div>
<div class="t" style="left:239.85px;transform:translateX(-50%);top:582.78px;font-size:5.9px;line-height:8.9px;color:#2e2e2e;">(17w)</div>
<div class="t" style="left:268.14px;transform:translateX(-50%);top:576.17px;font-size:6.3px;line-height:9.4px;color:#2e2e2e;">133</div>
<div class="t" style="left:268.14px;transform:translateX(-50%);top:582.78px;font-size:5.9px;line-height:8.9px;color:#2e2e2e;">(20w)</div>
<div class="t" style="left:279px;top:570.41px;font-size:5.7px;line-height:8.6px;color:#2e2e2e;">日令</div>
<div class="b" style="left:338.9px;top:397.9px;width:271.1px;height:202.2px;background:#fff;border-radius:4px;"></div>
<div class="t" style="left:471.6px;transform:translateX(-50%);top:404.92px;font-size:6.9px;line-height:10.4px;color:#111;font-weight:700;">産卵率HD%</div>
<svg style="left:0;top:0" width="640" height="639" viewBox="0 0 640 639"><line x1="384.400" x2="561.600" y1="578.30" y2="578.30" stroke="#7a7a7a" stroke-width="0.8"/><line x1="384.400" x2="561.600" y1="548.30" y2="548.30" stroke="#dedede" stroke-width="0.6"/><line x1="384.400" x2="561.600" y1="518.30" y2="518.30" stroke="#dedede" stroke-width="0.6"/><line x1="384.400" x2="561.600" y1="488.30" y2="488.30" stroke="#dedede" stroke-width="0.6"/><line x1="384.400" x2="561.600" y1="458.30" y2="458.30" stroke="#dedede" stroke-width="0.6"/><line x1="384.400" x2="561.600" y1="428.30" y2="428.30" stroke="#dedede" stroke-width="0.6"/><polyline points="387.91,525.80 390.83,493.40 393.74,475.55 396.65,456.80" fill="none" stroke="#1f4fc0" stroke-width="1.050"/><circle cx="387.91" cy="525.80" r="1.050" fill="#1f4fc0"/><circle cx="390.83" cy="493.40" r="1.050" fill="#1f4fc0"/><circle cx="393.74" cy="475.55" r="1.050" fill="#1f4fc0"/><circle cx="396.65" cy="456.80" r="1.050" fill="#1f4fc0"/><polyline points="414.13,482.90 417.04,467.75 419.96,455.45 422.87,453.20" fill="none" stroke="#f07c3a" stroke-width="1.050"/><circle cx="414.13" cy="482.90" r="1.050" fill="#f07c3a"/><circle cx="417.04" cy="467.75" r="1.050" fill="#f07c3a"/><circle cx="419.96" cy="455.45" r="1.050" fill="#f07c3a"/><circle cx="422.87" cy="453.20" r="1.050" fill="#f07c3a"/><polyline points="422.87,460.70 425.78,445.85 428.69,460.25 431.61,456.05" fill="none" stroke="#1e9fd9" stroke-width="1.050"/><circle cx="422.87" cy="460.70" r="1.050" fill="#1e9fd9"/><circle cx="425.78" cy="445.85" r="1.050" fill="#1e9fd9"/><circle cx="428.69" cy="460.25" r="1.050" fill="#1e9fd9"/><circle cx="431.61" cy="456.05" r="1.050" fill="#1e9fd9"/><polyline points="443.26,445.85 446.17,446.45 449.09,450.05 452.00,446.30" fill="none" stroke="#f5b921" stroke-width="1.050"/><circle cx="443.26" cy="445.85" r="1.050" fill="#f5b921"/><circle cx="446.17" cy="446.45" r="1.050" fill="#f5b921"/><circle cx="449.09" cy="450.05" r="1.050" fill="#f5b921"/><circle cx="452.00" cy="446.30" r="1.050" fill="#f5b921"/><polyline points="484.04,438.20 486.95,438.95 489.87,437.75 492.78,441.35" fill="none" stroke="#15152e" stroke-width="1.050"/><circle cx="484.04" cy="438.20" r="1.050" fill="#15152e"/><circle cx="486.95" cy="438.95" r="1.050" fill="#15152e"/><circle cx="489.87" cy="437.75" r="1.050" fill="#15152e"/><circle cx="492.78" cy="441.35" r="1.050" fill="#15152e"/><polyline points="507.35,441.05 510.26,438.95 513.17,434.60 516.09,442.40" fill="none" stroke="#1f4fc0" stroke-width="1.050"/><circle cx="507.35" cy="441.05" r="1.050" fill="#1f4fc0"/><circle cx="510.26" cy="438.95" r="1.050" fill="#1f4fc0"/><circle cx="513.17" cy="434.60" r="1.050" fill="#1f4fc0"/><circle cx="516.09" cy="442.40" r="1.050" fill="#1f4fc0"/><polyline points="519.00,438.20 521.91,439.70 524.82,443.30 527.74,445.70" fill="none" stroke="#a5cd39" stroke-width="1.050"/><circle cx="519.00" cy="438.20" r="1.050" fill="#a5cd39"/><circle cx="521.91" cy="439.70" r="1.050" fill="#a5cd39"/><circle cx="524.82" cy="443.30" r="1.050" fill="#a5cd39"/><circle cx="527.74" cy="445.70" r="1.050" fill="#a5cd39"/><polyline points="539.39,446.75 542.30,454.25 545.22,453.80 548.13,451.10" fill="none" stroke="#3a2a9e" stroke-width="1.050"/><circle cx="539.39" cy="446.75" r="1.050" fill="#3a2a9e"/><circle cx="542.30" cy="454.25" r="1.050" fill="#3a2a9e"/><circle cx="545.22" cy="453.80" r="1.050" fill="#3a2a9e"/><circle cx="548.13" cy="451.10" r="1.050" fill="#3a2a9e"/><polyline points="551.04,451.55 553.95,451.55 556.87,451.55 559.78,451.25" fill="none" stroke="#e8417f" stroke-width="1.050"/><circle cx="551.04" cy="451.55" r="1.050" fill="#e8417f"/><circle cx="553.95" cy="451.55" r="1.050" fill="#e8417f"/><circle cx="556.87" cy="451.55" r="1.050" fill="#e8417f"/><circle cx="559.78" cy="451.25" r="1.050" fill="#e8417f"/></svg>
<div class="t" style="right:259.7px;top:574.08px;font-size:6.4px;line-height:9.6px;color:#2e2e2e;">0</div>
<div class="t" style="right:259.7px;top:544.08px;font-size:6.4px;line-height:9.6px;color:#2e2e2e;">20</div>
<div class="t" style="right:259.7px;top:514.08px;font-size:6.4px;line-height:9.6px;color:#2e2e2e;">40</div>
<div class="t" style="right:259.7px;top:484.08px;font-size:6.4px;line-height:9.6px;color:#2e2e2e;">60</div>
<div class="t" style="right:259.7px;top:454.08px;font-size:6.4px;line-height:9.6px;color:#2e2e2e;">80</div>
<div class="t" style="right:259.7px;top:424.08px;font-size:6.4px;line-height:9.6px;color:#2e2e2e;">100</div>
<div class="t" style="left:383.9px;transform:translateX(-50%);top:415px;font-size:5.5px;line-height:8.2px;color:#2e2e2e;">%</div>
<div class="t" style="left:385px;transform:translateX(-50%);top:579.97px;font-size:6.3px;line-height:9.4px;color:#2e2e2e;">20</div>
<div class="t" style="left:396.65px;transform:translateX(-50%);top:579.97px;font-size:6.3px;line-height:9.4px;color:#2e2e2e;">24</div>
<div class="t" style="left:408.3px;transform:translateX(-50%);top:579.97px;font-size:6.3px;line-height:9.4px;color:#2e2e2e;">28</div>
<div class="t" style="left:419.96px;transform:translateX(-50%);top:579.97px;font-size:6.3px;line-height:9.4px;color:#2e2e2e;">32</div>
<div class="t" style="left:431.61px;transform:translateX(-50%);top:579.97px;font-size:6.3px;line-height:9.4px;color:#2e2e2e;">36</div>
<div class="t" style="left:443.26px;transform:translateX(-50%);top:579.97px;font-size:6.3px;line-height:9.4px;color:#2e2e2e;">40</div>
<div class="t" style="left:454.91px;transform:translateX(-50%);top:579.97px;font-size:6.3px;line-height:9.4px;color:#2e2e2e;">44</div>
<div class="t" style="left:466.56px;transform:translateX(-50%);top:579.97px;font-size:6.3px;line-height:9.4px;color:#2e2e2e;">48</div>
<div class="t" style="left:478.22px;transform:translateX(-50%);top:579.97px;font-size:6.3px;line-height:9.4px;color:#2e2e2e;">52</div>
<div class="t" style="left:489.87px;transform:translateX(-50%);top:579.97px;font-size:6.3px;line-height:9.4px;color:#2e2e2e;">56</div>
<div class="t" style="left:501.52px;transform:translateX(-50%);top:579.97px;font-size:6.3px;line-height:9.4px;color:#2e2e2e;">60</div>
<div class="t" style="left:513.17px;transform:translateX(-50%);top:579.97px;font-size:6.3px;line-height:9.4px;color:#2e2e2e;">64</div>
<div class="t" style="left:524.82px;transform:translateX(-50%);top:579.97px;font-size:6.3px;line-height:9.4px;color:#2e2e2e;">68</div>
<div class="t" style="left:536.48px;transform:translateX(-50%);top:579.97px;font-size:6.3px;line-height:9.4px;color:#2e2e2e;">72</div>
<div class="t" style="left:548.13px;transform:translateX(-50%);top:579.97px;font-size:6.3px;line-height:9.4px;color:#2e2e2e;">76</div>
<div class="t" style="left:559.78px;transform:translateX(-50%);top:579.97px;font-size:6.3px;line-height:9.4px;color:#2e2e2e;">80</div>
<div class="t" style="left:568.7px;top:574.04px;font-size:5.4px;line-height:8.1px;color:#2e2e2e;">週令</div>
<div class="t" style="left:34.5px;top:618.43px;font-size:4.2px;line-height:6.3px;color:#9aa0a8;">© 日清丸紅飼料株式会社</div>
<div class="t" style="right:14.4px;top:618.83px;font-size:4.2px;line-height:6.3px;color:#9aa0a8;">v1.1.0</div>
</div></body></html>
